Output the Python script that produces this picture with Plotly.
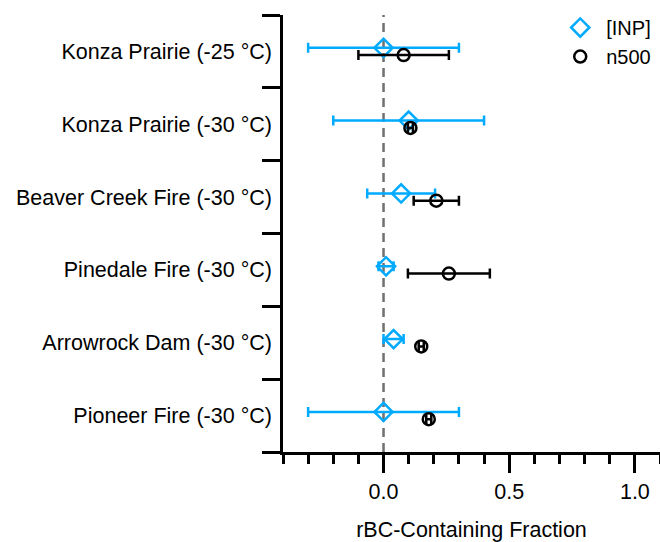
import plotly.graph_objects as go

categories = ["Konza Prairie (-25 °C)", "Konza Prairie (-30 °C)", "Beaver Creek Fire (-30 °C)",
              "Pinedale Fire (-30 °C)", "Arrowrock Dam (-30 °C)", "Pioneer Fire (-30 °C)"]
inp_val = [0.00, 0.10, 0.07, 0.01, 0.04, 0.00]
inp_err = [0.30, 0.30, 0.135, 0.03, 0.04, 0.30]
n500_val = [0.08, 0.107, 0.21, 0.26, 0.15, 0.18]
n500_err = [0.18, 0.01, 0.09, 0.163, 0.01, 0.01]

n = len(categories)
ypos = [n - 1 - i for i in range(n)]
off = 0.05

BLUE = "rgb(0,170,255)"
FONT = "Liberation Sans, Arial, Helvetica, sans-serif"
FS = 21.5

fig = go.Figure()
fig.add_trace(go.Scatter(
    x=inp_val, y=[y + off for y in ypos], mode="markers", name="[INP]",
    marker=dict(symbol="diamond-open", size=14, color=BLUE, line=dict(width=2.5, color=BLUE)),
    error_x=dict(type="data", array=inp_err, visible=True, color=BLUE, thickness=2.5, width=5),
))
fig.add_trace(go.Scatter(
    x=n500_val, y=[y - off for y in ypos], mode="markers", name="n500",
    marker=dict(symbol="circle-open", size=12, color="black", line=dict(width=2.5, color="black")),
    error_x=dict(type="data", array=n500_err, visible=True, color="black", thickness=2.5, width=5),
))

fig.add_shape(type="line", x0=0, x1=0, xref="x", y0=0, y1=1, yref="paper",
              line=dict(color="#707070", width=2.5, dash="9px,6px"), layer="below")

fig.update_layout(
    width=660, height=542,
    margin=dict(l=283, r=0, t=15, b=90),
    plot_bgcolor="white", paper_bgcolor="white",
    font=dict(family=FONT, size=FS, color="black"),
    showlegend=True,
    legend=dict(x=0.99, xanchor="right", y=1.016, yanchor="top", bgcolor="rgba(0,0,0,0)",
                font=dict(size=20), tracegroupgap=0, itemwidth=42),
    xaxis=dict(
        range=[-0.4, 1.1], showline=True, linecolor="black", linewidth=2.5,
        showgrid=False, zeroline=False,
        tickvals=[0, 0.5, 1.0], ticktext=["0.0", "0.5", "1.0"],
        ticks="outside", ticklen=18, tickwidth=2.5, tickcolor="black",
        minor=dict(tickvals=[-0.4, -0.3, -0.2, -0.1, 0.1, 0.2, 0.3, 0.4, 0.6, 0.7, 0.8, 0.9, 1.1],
                   ticks="outside", ticklen=9, tickwidth=2.5, tickcolor="black"),
        title=dict(text="rBC-Containing Fraction", standoff=21, font=dict(size=FS)),
        tickfont=dict(size=FS),
    ),
    yaxis=dict(
        range=[-0.5, n - 0.5], showline=True, linecolor="black", linewidth=2.5,
        showgrid=False, zeroline=False,
        tickvals=ypos, ticktext=categories,
        ticks="outside", ticklen=4, tickcolor="rgba(0,0,0,0)",
        minor=dict(tickvals=[k - 0.5 for k in range(n + 1)], ticks="outside",
                   ticklen=18, tickwidth=2.5, tickcolor="black"),
        tickfont=dict(size=FS),
    ),
)

fig.write_html("out.html")
